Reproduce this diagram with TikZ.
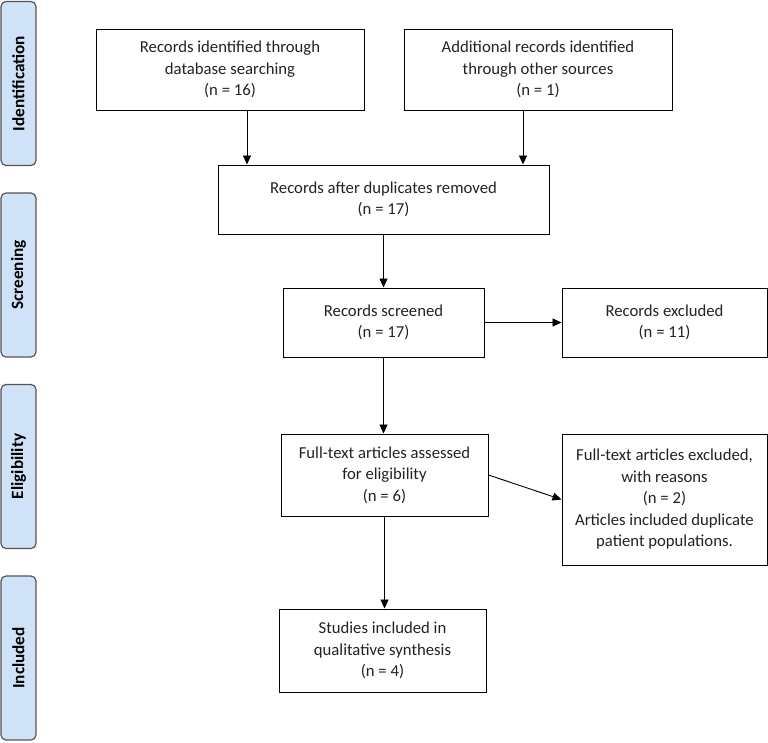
\documentclass[tikz,border=0pt]{standalone}
\usepackage{fontspec}
\setmainfont{Carlito}
\usetikzlibrary{arrows.meta}
\definecolor{sidecol}{HTML}{CFE2F7}
\definecolor{sideedge}{HTML}{555555}
\definecolor{txt}{HTML}{222222}
\begin{document}
\begin{tikzpicture}[x=1pt,y=-1pt,
  box/.style={draw, line width=1pt, align=center, text=txt, font=\fontsize{16.7}{21.5}\selectfont, inner sep=0pt},
  side/.style={draw=sideedge, fill=sidecol, rounded corners=5pt, line width=1.2pt, rotate=90,
    minimum width=164pt, minimum height=35pt, inner sep=0pt, font=\bfseries\fontsize{17.2}{19}\selectfont},
  arr/.style={-{Triangle[length=9pt,width=8pt]}, line width=0.9pt}]
\useasboundingbox (0,0) rectangle (768,742);
% side bars
\node[side] (s1) at (18.5,83.5) {Identification};
\node[side] (s2) at (18.5,275) {Screening};
\node[side] (s3) at (18.5,466.5) {Eligibility};
\node[side] (s4) at (18.5,658) {Included};
% boxes
\node[box, minimum width=268pt, minimum height=81pt] (b1) at (230,69.5) {Records identified through\\database searching\\(n = 16)};
\node[box, minimum width=268pt, minimum height=81pt] (b2) at (538,69.5) {Additional records identified\\through other sources\\(n = 1)};
\node[box, minimum width=331pt, minimum height=69pt] (b3) at (383.5,199.5) {Records after duplicates removed\\(n = 17)};
\node[box, minimum width=201pt, minimum height=69pt] (b4) at (383.5,322.5) {Records screened\\(n = 17)};
\node[box, minimum width=205pt, minimum height=69pt] (b5) at (664.5,322.5) {Records excluded\\(n = 11)};
\node[box, minimum width=207pt, minimum height=82pt] (b6) at (384.5,475) {Full-text articles assessed\\for eligibility\\(n = 6)};
\node[box, minimum width=205pt, minimum height=131pt] (b7) at (664.5,499.5) {Full-text articles excluded,\\with reasons\\(n = 2)\\Articles included duplicate\\patient populations.};
\node[box, minimum width=207pt, minimum height=83pt] (b8) at (382.5,650.5) {Studies included in\\qualitative synthesis\\(n = 4)};
% arrows
\draw[arr] ([xshift=17pt]b1.south) -- ([xshift=17pt]b1.south |- b3.north);
\draw[arr] ([xshift=-15pt]b2.south) -- ([xshift=-15pt]b2.south |- b3.north);
\draw[arr] (b3.south) -- (b3.south |- b4.north);
\draw[arr] (b4.east) -- (b5.west);
\draw[arr] (b4.south) -- (b4.south |- b6.north);
\draw[arr] (b6.east) -- (b7.west);
\draw[arr] (b6.south) -- (b6.south |- b8.north);
\end{tikzpicture}
\end{document}
